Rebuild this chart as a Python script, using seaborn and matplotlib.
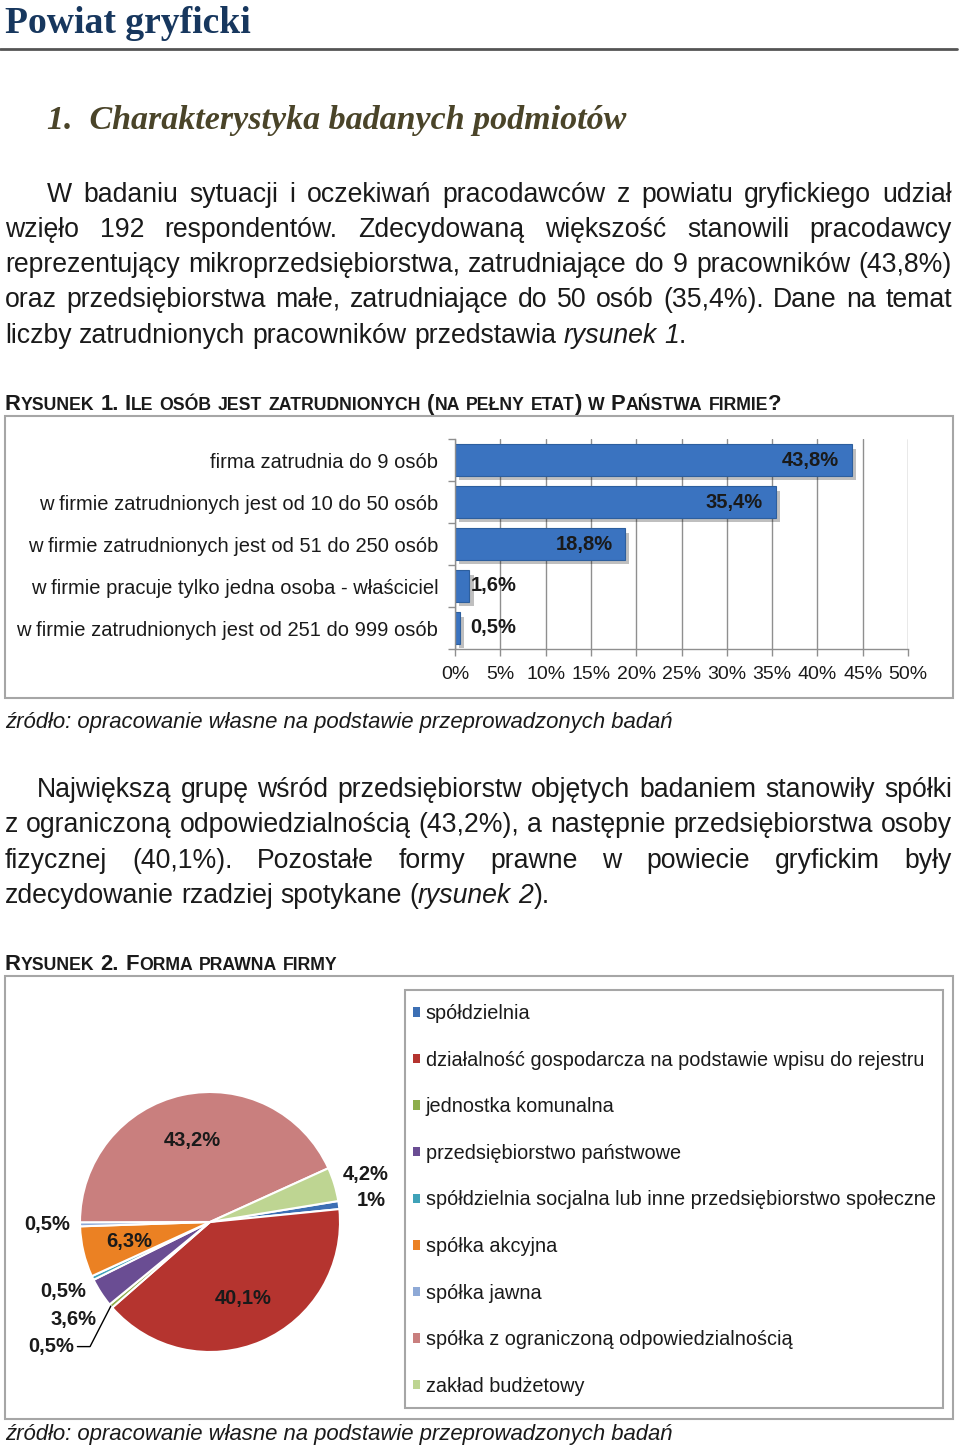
import numpy as np
import pandas as pd
import matplotlib
matplotlib.use("Agg")
import matplotlib.pyplot as plt
import matplotlib.patheffects as pe
from matplotlib import font_manager as fm
from matplotlib.patches import Rectangle
import seaborn as sns

# ---------------- data ----------------
page_title = "Powiat gryficki"
section_title = "1.  Charakterystyka badanych podmiotów"
para1_lines = [
    "W badaniu sytuacji i oczekiwań pracodawców z powiatu gryfickiego udział",
    "wzięło 192 respondentów. Zdecydowaną większość stanowili pracodawcy",
    "reprezentujący mikroprzedsiębiorstwa, zatrudniające do 9 pracowników (43,8%)",
    "oraz przedsiębiorstwa małe, zatrudniające do 50 osób (35,4%). Dane na temat",
    "liczby zatrudnionych pracowników przedstawia *rysunek 1*.",
]
para2_lines = [
    "Największą grupę wśród przedsiębiorstw objętych badaniem stanowiły spółki",
    "z ograniczoną odpowiedzialnością (43,2%), a następnie przedsiębiorstwa osoby",
    "fizycznej (40,1%). Pozostałe formy prawne w powiecie gryfickim były",
    "zdecydowanie rzadziej spotykane (*rysunek 2*).",
]
caption1 = "Rysunek 1. Ile osób jest zatrudnionych (na pełny etat) w Państwa firmie?"
caption2 = "Rysunek 2. Forma prawna firmy"
source_text = "źródło: opracowanie własne na podstawie przeprowadzonych badań"

bar_categories = [
    "firma zatrudnia do 9 osób",
    "w firmie zatrudnionych jest od 10 do 50 osób",
    "w firmie zatrudnionych jest od 51 do 250 osób",
    "w firmie pracuje tylko jedna osoba - właściciel",
    "w firmie zatrudnionych jest od 251 do 999 osób",
]
bar_values = [43.8, 35.4, 18.8, 1.6, 0.5]
bar_ticks = [0, 5, 10, 15, 20, 25, 30, 35, 40, 45, 50]

pie_categories = [
    "spółdzielnia",
    "działalność gospodarcza na podstawie wpisu do rejestru",
    "jednostka komunalna",
    "przedsiębiorstwo państwowe",
    "spółdzielnia socjalna lub inne przedsiębiorstwo społeczne",
    "spółka akcyjna",
    "spółka jawna",
    "spółka z ograniczoną odpowiedzialnością",
    "zakład budżetowy",
]
pie_values = [1.0, 40.1, 0.5, 3.6, 0.5, 6.3, 0.5, 43.2, 4.2]
pie_colors = ["#3C6FB4", "#B5342F", "#8DAE4B", "#6A4D93", "#3FA2B8",
              "#EB8123", "#8EA9D6", "#C97F7E", "#BED592"]

# ---------------- fonts ----------------
sns.set_theme(style="white")
names = {f.name for f in fm.fontManager.ttflist}


def pick(*cands):
    for c in cands:
        if c in names:
            return c
    return "DejaVu Sans"


SANS = pick("Liberation Sans", "Arimo", "DejaVu Sans")
SERIF = pick("Liberation Serif", "DejaVu Serif")
if "Liberation Sans Narrow" in names:
    NARROW = "Liberation Sans Narrow"
elif "DejaVu Sans Condensed" in names:
    NARROW = "DejaVu Sans Condensed"
else:
    NARROW = SANS
plt.rcParams["font.family"] = [SANS, "DejaVu Sans"]

TXT = "#1a1a1a"
GRID = "#8f8f8f"
BOXC = "#a6a6a6"
W, H = 960, 1448

fig = plt.figure(figsize=(W / 100, H / 100), dpi=100)
fig.patch.set_facecolor("white")
ov = fig.add_axes([0, 0, 1, 1])
ov.set_xlim(0, W)
ov.set_ylim(H, 0)
ov.axis("off")
R = fig.canvas.get_renderer()


def measure(s, kw):
    t = ov.text(0, 0, s, **kw)
    w = t.get_window_extent(renderer=R).width
    t.remove()
    return w


def space_w(kw):
    return measure("a a", kw) - measure("aa", kw)


def parse_line(s):
    italic = False
    words = []
    for word in s.split(" "):
        segs = []
        parts = word.split("*")
        for k, p in enumerate(parts):
            if k > 0:
                italic = not italic
            if p:
                segs.append((p, italic))
        words.append(segs)
    return words


def body_kw(size):
    def f(k):
        return dict(fontsize=size, family=[SANS, "DejaVu Sans"],
                    style="italic" if k else "normal", color=TXT)
    return f


def natural_width(words, kw_of):
    ws = [sum(measure(t, kw_of(k)) for t, k in w) for w in words]
    return sum(ws) + space_w(kw_of(False)) * (len(words) - 1)


def draw_words(words, x0, y, kw_of, x1=None):
    widths = [sum(measure(t, kw_of(k)) for t, k in w) for w in words]
    if x1 is not None and len(words) > 1:
        gap = (x1 - x0 - sum(widths)) / (len(words) - 1)
    else:
        gap = space_w(kw_of(False))
    x = x0
    for w in words:
        for t, k in w:
            kw = kw_of(k)
            ov.text(x, y, t, va="baseline", ha="left", **kw)
            x += measure(t, kw)
        x += gap


def fit_size(s, kw_base, target):
    w = measure(s, dict(kw_base, fontsize=10))
    return 10 * target / w


# ---------------- header ----------------
kw_t = dict(family=[SERIF], weight="bold", color="#17375E")
sz = fit_size(page_title, kw_t, 246)
ov.text(5, 33, page_title, va="baseline", fontsize=sz, **kw_t)
ov.plot([0, 957], [49, 49], color="#555555", lw=2)

kw_s = dict(family=[SERIF], weight="bold", style="italic", color="#4A4429")
sz = fit_size(section_title, kw_s, 581)
ov.text(47, 129, section_title, va="baseline", fontsize=sz, **kw_s)

# ---------------- paragraphs ----------------
p1 = [parse_line(l) for l in para1_lines]
w10 = natural_width(p1[-1], body_kw(10))
BODY = 10 * 683 / w10
bk = body_kw(BODY)
ys1 = [202, 237, 272, 307, 343]
starts1 = [47, 5, 5, 5, 5]
for i, (words, y, x0) in enumerate(zip(p1, ys1, starts1)):
    draw_words(words, x0, y, bk, x1=None if i == len(p1) - 1 else 952)

p2 = [parse_line(l) for l in para2_lines]
ys2 = [797, 832, 868, 903]
starts2 = [37, 5, 5, 5]
for i, (words, y, x0) in enumerate(zip(p2, ys2, starts2)):
    draw_words(words, x0, y, bk, x1=None if i == len(p2) - 1 else 952)


# ---------------- captions in small caps ----------------
def smallcaps(text, x0, y, target):
    def runs(word, size):
        out = []
        cur, low = "", None
        for ch in word:
            l = ch.islower()
            if low is None or l == low:
                cur += ch
            else:
                out.append((cur, low))
                cur = ch
            low = l
        if cur:
            out.append((cur, low))
        return [(r.upper() if l else r,
                 dict(fontsize=size * (0.8 if l else 1.0), family=[NARROW, "DejaVu Sans"],
                      weight="bold", color=TXT)) for r, l in out]

    def total(size):
        words = text.split(" ")
        tot = 0
        for w in words:
            tot += sum(measure(r, kw) for r, kw in runs(w, size))
        base = dict(fontsize=size, family=[NARROW, "DejaVu Sans"], weight="bold")
        tot += space_w(base) * (len(words) - 1)
        return tot

    size = 10 * target / total(10)
    base = dict(fontsize=size, family=[NARROW, "DejaVu Sans"], weight="bold")
    sp = space_w(base)
    x = x0
    for w in text.split(" "):
        for r, kw in runs(w, size):
            ov.text(x, y, r, va="baseline", ha="left", **kw)
            x += measure(r, kw)
        x += sp


smallcaps(caption1, 5, 410, 775)
smallcaps(caption2, 5, 970, 333)

# source lines
kw_src = dict(family=[SANS, "DejaVu Sans"], style="italic", color=TXT)
SRC = fit_size(source_text, kw_src, 673)
ov.text(5, 728, source_text, va="baseline", fontsize=SRC, **kw_src)
ov.text(5, 1440, source_text, va="baseline", fontsize=SRC, **kw_src)

# boxes
ov.add_patch(Rectangle((5, 416), 948, 282, fill=False, ec=BOXC, lw=1.5))
ov.add_patch(Rectangle((5, 976), 948, 443, fill=False, ec=BOXC, lw=1.5))
ov.add_patch(Rectangle((405, 990), 538, 418, fill=False, ec=BOXC, lw=1.5))

# ---------------- chart 1: horizontal bars ----------------
ax1 = fig.add_axes([455 / W, 1 - 649 / H, 453 / W, 210 / H])
df1 = pd.DataFrame({"kategoria": bar_categories, "procent": bar_values})
sns.barplot(data=df1, x="procent", y="kategoria", orient="h", color="#3A73C0",
            saturation=1, width=0.74, edgecolor="#2D5F9E", linewidth=0.8, ax=ax1)
for p in ax1.patches:
    p.set_path_effects([pe.SimplePatchShadow(offset=(3, -3), shadow_rgbFace="black", alpha=0.25),
                        pe.Normal()])
ax1.set_xlim(0, 50)
ax1.set_ylim(4.5, -0.5)
ax1.set_xticks(bar_ticks)
ax1.set_xticklabels([f"{t}%" for t in bar_ticks])
ax1.set_xlabel("")
ax1.set_ylabel("")
ax1.set_facecolor("none")
ax1.grid(axis="x", color=GRID, lw=1)
ax1.grid(axis="y", visible=False)
ax1.set_axisbelow(True)
for s in ["top", "right"]:
    ax1.spines[s].set_visible(False)
for s in ["left", "bottom"]:
    ax1.spines[s].set_color(GRID)
    ax1.spines[s].set_linewidth(1)
ax1.set_yticks(np.arange(-0.5, 5, 1), minor=True)
ax1.tick_params(axis="y", which="major", length=0, pad=12, labelsize=14.5, labelcolor=TXT)
ax1.tick_params(axis="y", which="minor", length=5, color=GRID, width=1, left=True)
ax1.tick_params(axis="x", length=5, color=GRID, width=1, pad=7, labelsize=14,
                labelcolor=TXT, bottom=True)


def pct(v):
    return f"{v:g}".replace(".", ",") + "%"


for i, v in enumerate(bar_values):
    lbl = f"{v:.1f}".replace(".", ",") + "%"
    if v > 10:
        ax1.text(v - 1.4, i, lbl, ha="right", va="center", fontsize=14.5,
                 fontweight="bold", color=TXT)
    else:
        ax1.text(max(v, 1.6) + 0.1, i, lbl, ha="left", va="center", fontsize=14.5,
                 fontweight="bold", color=TXT)

# ---------------- chart 2: pie ----------------
cx, cy, rad = 210, 1222, 130
ax2 = fig.add_axes([(cx - rad) / W, 1 - (cy + rad) / H, 2 * rad / W, 2 * rad / H])
wedges, _ = ax2.pie(pie_values, colors=pie_colors, startangle=9.3, counterclock=False,
                    wedgeprops=dict(edgecolor="white", linewidth=1.5))
ax2.set_xlim(-1, 1)
ax2.set_ylim(-1, 1)

outside_left = []
for w, v in zip(wedges, pie_values):
    th = np.deg2rad((w.theta1 + w.theta2) / 2)
    if v > 5:
        r = 0.64
        ax2.text(r * np.cos(th), r * np.sin(th), pct(v), ha="center", va="center",
                 fontsize=14.5, fontweight="bold", color=TXT)
    else:
        x, y = 1.25 * np.cos(th), 1.25 * np.sin(th)
        if x < 0:
            outside_left.append([y, x, th, v])
        else:
            ax2.text(x, y, pct(v), ha="center", va="center", fontsize=14.5,
                     fontweight="bold", color=TXT)

outside_left.sort(key=lambda a: -a[0])
prev = None
for item in outside_left:
    y, x, th, v = item
    ny = y if prev is None else min(y, prev - 0.21)
    prev = ny
    if y - ny > 0.1:
        lx = -1.22
        ax2.plot([np.cos(th), np.cos(th) - 0.16, lx + 0.2], [np.sin(th), ny, ny],
                 color="black", lw=1, clip_on=False)
        ax2.text(lx, ny, pct(v), ha="center", va="center", fontsize=14.5,
                 fontweight="bold", color=TXT)
    else:
        ax2.text(x, ny, pct(v), ha="center", va="center", fontsize=14.5,
                 fontweight="bold", color=TXT)

handles = [Rectangle((0, 0), 1, 1, fc=c, ec="none") for c in pie_colors]
leg = fig.legend(handles, pie_categories, loc="upper left",
                 bbox_to_anchor=(413 / W, 1 - 1004 / H), bbox_transform=fig.transFigure,
                 frameon=False, fontsize=14.3,
                 handlelength=0.35, handleheight=0.35, handletextpad=0.3,
                 labelspacing=1.39, borderpad=0, borderaxespad=0)
for t in leg.get_texts():
    t.set_color(TXT)

fig.savefig("out.png", dpi=100, facecolor="white")
